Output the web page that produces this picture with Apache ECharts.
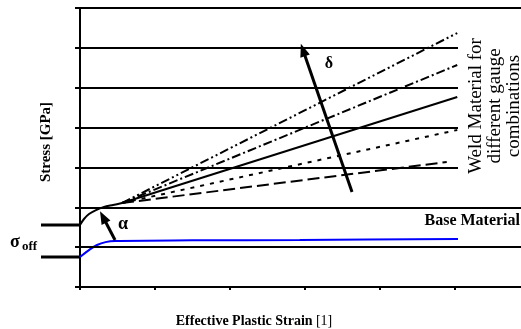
<!DOCTYPE html>
<html><head><meta charset="utf-8">
<script src="https://cdn.jsdelivr.net/npm/echarts@6/dist/echarts.min.js"></script>
<style>html,body{margin:0;padding:0;background:#fff}#c{width:521px;height:329px}</style>
</head><body><div id="c"></div>
<script>
// Axis ticks
const xTickValues = [0, 1, 2, 3, 4, 5];
const yTickValues = [0, 1, 2, 3, 4, 5, 6, 7];
// Horizontal reference lines (level, right end)
const gridLevels = [1, 2, 3, 4, 5, 6, 7];
const gridLevelEnds = [5.88, 5.88, 5.04, 5.04, 5.04, 5.04, 5.88];
// Base material curve
const baseX = [0, 0.227, 0.467, 1.5, 2.93, 5.04];
const baseY = [0.75, 1.054, 1.154, 1.17, 1.18, 1.204];
// Weld common stem
const stemX = [0, 0.053, 0.12, 0.213, 0.32, 0.44, 0.56];
const stemY = [1.555, 1.706, 1.83, 1.93, 2.007, 2.057, 2.107];
// Weld fan lines (different gauge combinations)
const fanNames = ['Weld 1', 'Weld 2', 'Weld 3', 'Weld 4', 'Weld 5'];
const fanEndX = [5.03, 5.03, 5.03, 5.03, 4.89];
const fanEndY = [6.372, 5.57, 4.767, 3.94, 3.136];
const fanDash = [[9, 3, 2, 3, 2, 3], [9, 3, 2, 3], 'solid', [4, 6], [12, 5]];
// Annotation arrows
const deltaArrow = [[3.627, 2.383], [2.973, 5.946]];
const alphaArrow = [[0.467, 1.179], [0.307, 1.756]];

const chart = echarts.init(document.getElementById('c'), null, {renderer: 'canvas'});
const toPts = (xs, ys) => xs.map((x, i) => [x, ys[i]]);
const stemEnd = [stemX[stemX.length - 1], stemY[stemY.length - 1]];

const series = [];
series.push({
  name: 'Weld stem', type: 'line', data: toPts(stemX, stemY), symbol: 'none', smooth: 0.3,
  lineStyle: {color: '#000', width: 2}, z: 3,
  markLine: {
    silent: true, symbol: 'none', animation: false,
    lineStyle: {color: '#000', width: 2, type: 'solid'}, label: {show: false},
    data: gridLevels.map((v, i) => [{coord: [0, v]}, {coord: [gridLevelEnds[i], v]}])
  }
});
series.push({
  name: 'Base Material', type: 'line', data: toPts(baseX, baseY), symbol: 'none', smooth: 0.3,
  lineStyle: {color: '#0000ff', width: 2}, z: 3
});
fanNames.forEach((n, i) => {
  series.push({
    name: n, type: 'line', data: [stemEnd, [fanEndX[i], fanEndY[i]]], symbol: 'none',
    lineStyle: {color: '#000', width: 2, type: fanDash[i]}, z: 3
  });
});
series.push({
  name: 'arrows', type: 'line', data: [], symbol: 'none', z: 4,
  markLine: {
    silent: true, animation: false, symbol: ['none', 'triangle'], symbolSize: [10, 13],
    lineStyle: {color: '#000', width: 3, type: 'solid'}, label: {show: false},
    data: [
      [{coord: deltaArrow[0]}, {coord: deltaArrow[1]}],
      [{coord: alphaArrow[0]}, {coord: alphaArrow[1]}]
    ]
  }
});

const option = {
  animation: false,
  backgroundColor: '#fff',
  grid: {left: 80, right: 0, top: 8, bottom: 42, containLabel: false},
  xAxis: {
    type: 'value', min: 0, max: 5.88,
    axisLine: {show: true, lineStyle: {color: '#000', width: 2}},
    axisTick: {show: true, inside: false, length: 3, lineStyle: {color: '#000', width: 2}, customValues: xTickValues},
    axisLabel: {show: false}, splitLine: {show: false}
  },
  yAxis: {
    type: 'value', min: 0, max: 7, interval: 1,
    axisLine: {show: true, onZero: false, lineStyle: {color: '#000', width: 2}},
    axisTick: {show: true, length: 5, lineStyle: {color: '#000', width: 2}, customValues: yTickValues},
    axisLabel: {show: false}, splitLine: {show: false}
  },
  series: series
};
chart.setOption(option);

const gx = chart.convertToPixel({xAxisIndex: 0}, 0);
const yWeld0 = chart.convertToPixel({yAxisIndex: 0}, stemY[0]);
const yBase0 = chart.convertToPixel({yAxisIndex: 0}, baseY[0]);
const serif = '"Liberation Serif","Times New Roman",serif';
chart.setOption({
  graphic: [
    {type: 'line', shape: {x1: 41, y1: yWeld0, x2: gx, y2: yWeld0}, style: {stroke: '#000', lineWidth: 3}},
    {type: 'line', shape: {x1: 41, y1: yBase0, x2: gx, y2: yBase0}, style: {stroke: '#000', lineWidth: 3}},
    {type: 'text', x: 10, y: 242, style: {text: 'σ', font: 'bold 18px ' + serif, fill: '#000', textVerticalAlign: 'middle'}},
    {type: 'text', x: 22, y: 247, style: {text: 'off', font: 'bold 13px ' + serif, fill: '#000', textVerticalAlign: 'middle'}},
    {type: 'text', x: 46, y: 142, rotation: Math.PI / 2, style: {text: 'Stress [GPa]', font: 'bold 15px ' + serif, fill: '#000', textAlign: 'center', textVerticalAlign: 'middle'}},
    {type: 'text', x: 254, y: 321, style: {
      text: '{b|Effective Plastic Strain} {n|[1]}', textAlign: 'center', textVerticalAlign: 'middle',
      rich: {b: {font: 'bold 14px ' + serif, fill: '#000'}, n: {font: '14px ' + serif, fill: '#000'}}
    }},
    {type: 'text', x: 520, y: 221, style: {text: 'Base Material', font: 'bold 16px ' + serif, fill: '#000', textAlign: 'right', textVerticalAlign: 'middle'}},
    {type: 'text', x: 495, y: 106, rotation: Math.PI / 2, style: {
      text: 'Weld Material for\ndifferent gauge\ncombinations', font: '19px ' + serif, lineHeight: 19,
      fill: '#000', textAlign: 'center', textVerticalAlign: 'middle'
    }},
    {type: 'text', x: 329, y: 64, style: {text: 'δ', font: 'bold 16px ' + serif, fill: '#000', textAlign: 'center', textVerticalAlign: 'middle'}},
    {type: 'text', x: 123, y: 224, style: {text: 'α', font: 'bold 18px ' + serif, fill: '#000', textAlign: 'center', textVerticalAlign: 'middle'}}
  ]
});
</script></body></html>
